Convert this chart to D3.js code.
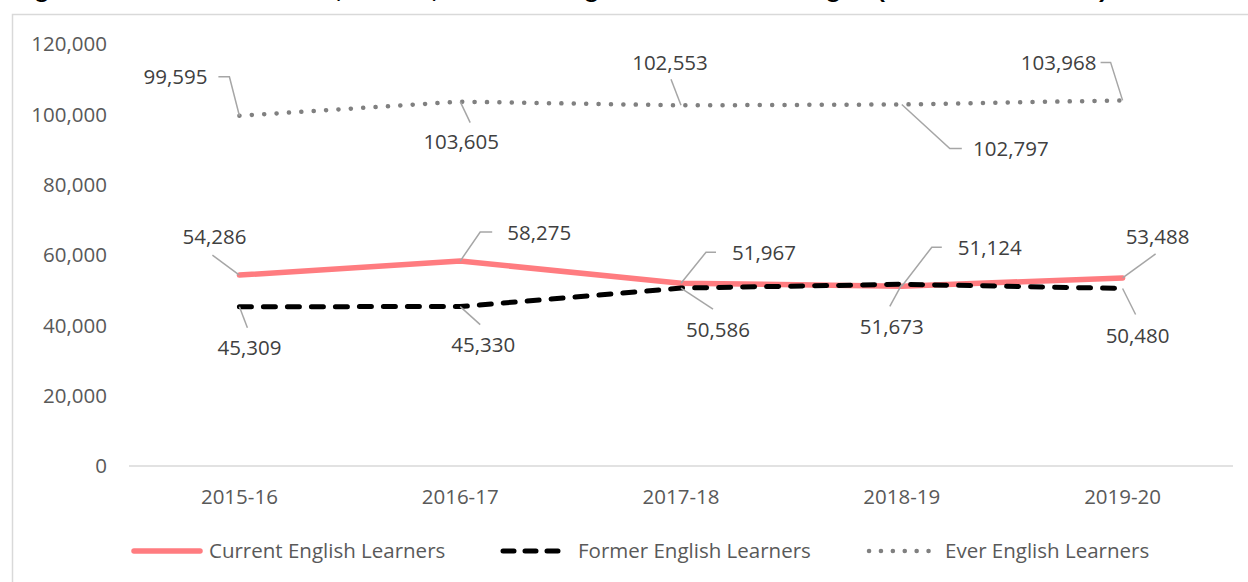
<!DOCTYPE html>
<html>
<head>
<meta charset="utf-8">
<script src="https://cdn.jsdelivr.net/npm/d3@7"></script>
<style>
  html, body { margin: 0; padding: 0; background: #fff; }
  svg { display: block; }
</style>
</head>
<body>
<svg id="chart" width="1248" height="582"></svg>
<script>
// chart data
var years = ["2015-16", "2016-17", "2017-18", "2018-19", "2019-20"];
var currentEL = [54286, 58275, 51967, 51124, 53488];
var formerEL = [45309, 45330, 50586, 51673, 50480];
var everEL = [99595, 103605, 102553, 102797, 103968];
var yTicks = [0, 20000, 40000, 60000, 80000, 100000, 120000];
var seriesNames = ["Current English Learners", "Former English Learners", "Ever English Learners"];

// label placement (offsets from the point, in px): text centre and leader line
var currentLabelPos = [
    {dx: -25, dy: -38, leader: [[-27, -20], [0, 0]]},
    {dx: 79, dy: -28, leader: [[32, -29], [20, -29], [0, 0]]},
    {dx: 83, dy: -30, leader: [[35, -31], [25, -31], [0, 0]]},
    {dx: 88, dy: -38, leader: [[40, -39], [30, -39], [0, 0]]},
    {dx: 35, dy: -41, leader: [[33, -24], [0, 0]]}
];
var formerLabelPos = [
    {dx: 10, dy: 41, leader: [[8, 21], [0, 0]]},
    {dx: 23, dy: 38, leader: [[20, 18], [0, 0]]},
    {dx: 37, dy: 42, leader: [[32, 21], [0, 0]]},
    {dx: -10, dy: 43, leader: [[-12, 22], [0, 0]]},
    {dx: 15, dy: 47, leader: [[13, 26], [0, 0]]}
];
var everLabelPos = [
    {dx: -64, dy: -39, leader: [[-21, -39], [-10, -39], [0, 0]]},
    {dx: 1, dy: 40, leader: [[10, 21], [0, 0]]},
    {dx: -11, dy: -43, leader: [[-10, -26], [0, 0]]},
    {dx: 109, dy: 44, leader: [[60, 44], [48, 44], [0, 0]]},
    {dx: -64, dy: -38, leader: [[-22, -38], [-12, -38], [0, 0]]}
];

var svg = d3.select("#chart");
var font = "'Open Sans', sans-serif";
var fontSize = "20.5px";
var textColor = "#595959";
var labelColor = "#404040";
var leaderColor = "#A6A6A6";

// title, mostly cut off by the top of the picture
svg.append("text")
    .attr("x", 13).attr("y", -2)
    .attr("textLength", 1094)
    .attr("lengthAdjust", "spacingAndGlyphs")
    .style("font-family", "'Liberation Sans', Arial, sans-serif")
    .style("font-weight", "bold")
    .style("font-size", "21px")
    .attr("fill", "#000")
    .text("Figure 3. Number of Current, Former, and Ever English Learners in Oregon (2015-16 to 2019-20)");

// chart border
svg.append("rect")
    .attr("x", 12.5).attr("y", 14.5)
    .attr("width", 1260).attr("height", 600)
    .attr("fill", "none")
    .attr("stroke", "#D9D9D9")
    .attr("stroke-width", 1.5);

var x = d3.scaleBand().domain(years).range([129, 1233]);
var y = d3.scaleLinear().domain([0, 120000]).range([466, 44]);
var fmt = d3.format(",");

function px(d, i) { return x(years[i]) + x.bandwidth() / 2; }

// y tick labels
svg.append("g").selectAll("text")
    .data(yTicks)
    .join("text")
    .attr("x", 107)
    .attr("y", function(d) { return y(d); })
    .attr("dy", "0.35em")
    .attr("text-anchor", "end")
    .style("font-family", font)
    .style("font-size", fontSize)
    .attr("fill", textColor)
    .text(function(d) { return fmt(d); });

// x axis line
svg.append("line")
    .attr("x1", x.range()[0]).attr("x2", x.range()[1])
    .attr("y1", y(0)).attr("y2", y(0))
    .attr("stroke", "#D9D9D9")
    .attr("stroke-width", 1.5);

// x tick labels
svg.append("g").selectAll("text")
    .data(years)
    .join("text")
    .attr("x", function(d) { return x(d) + x.bandwidth() / 2; })
    .attr("y", 497)
    .attr("dy", "0.35em")
    .attr("text-anchor", "middle")
    .style("font-family", font)
    .style("font-size", fontSize)
    .attr("fill", textColor)
    .text(function(d) { return d; });

var series = [
    {values: currentEL, labels: currentLabelPos, color: "#FF7C80", width: 5.5, dash: null, legendDash: null},
    {values: formerEL, labels: formerLabelPos, color: "#000000", width: 5, dash: "12,12", legendDash: "11,11"},
    {values: everEL, labels: everLabelPos, color: "#808080", width: 4.5, dash: "0.1,12.3", legendDash: "0.1,11.8"}
];

var line = d3.line()
    .x(function(d, i) { return px(d, i); })
    .y(function(d) { return y(d); });

series.forEach(function(s) {
    svg.append("path")
        .datum(s.values)
        .attr("d", line)
        .attr("fill", "none")
        .attr("stroke", s.color)
        .attr("stroke-width", s.width)
        .attr("stroke-linecap", "round")
        .attr("stroke-linejoin", "round")
        .attr("stroke-dasharray", s.dash);
});

// data labels with leader lines
var leaderLine = d3.line();
series.forEach(function(s) {
    s.values.forEach(function(v, i) {
        var cx = px(v, i), cy = y(v);
        var lp = s.labels[i];
        svg.append("path")
            .attr("d", leaderLine(lp.leader.map(function(p) { return [cx + p[0], cy + p[1]]; })))
            .attr("fill", "none")
            .attr("stroke", leaderColor)
            .attr("stroke-width", 1.5);
        svg.append("text")
            .attr("x", cx + lp.dx)
            .attr("y", cy + lp.dy)
            .attr("dy", "0.35em")
            .attr("text-anchor", "middle")
            .style("font-family", font)
            .style("font-size", fontSize)
            .attr("fill", labelColor)
            .text(fmt(v));
    });
});

// legend
var legendX = [131, 500, 866];
var legendLen = [72, 65, 67];
var legendGap = [6, 13, 12];
var legendY = 551;
series.forEach(function(s, i) {
    svg.append("line")
        .attr("x1", legendX[i] + 3).attr("x2", legendX[i] + legendLen[i] - 3)
        .attr("y1", legendY).attr("y2", legendY)
        .attr("stroke", s.color)
        .attr("stroke-width", s.width)
        .attr("stroke-linecap", "round")
        .attr("stroke-dasharray", s.legendDash);
    svg.append("text")
        .attr("x", legendX[i] + legendLen[i] + legendGap[i])
        .attr("y", legendY)
        .attr("dy", "0.35em")
        .style("font-family", font)
        .style("font-size", fontSize)
        .attr("fill", textColor)
        .text(seriesNames[i]);
});
</script>
</body>
</html>
